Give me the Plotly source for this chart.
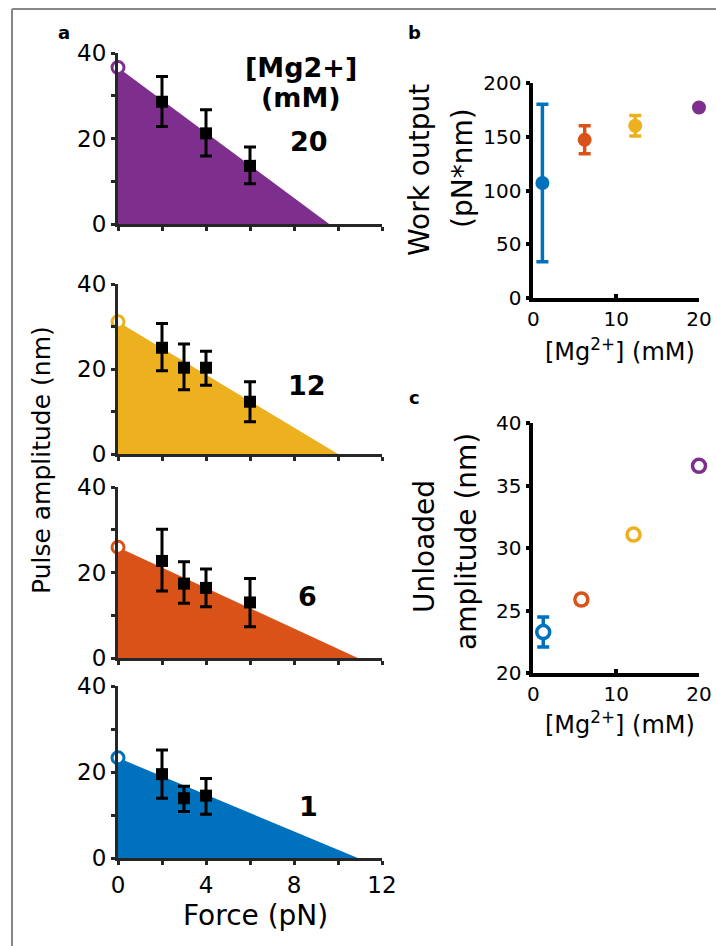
import plotly.graph_objects as go

W, H = 716, 946

# ---------------- data ----------------
mg = [1, 6, 12, 20]
mg_colors = ["#0072BD", "#D95319", "#EDB120", "#7E2F8E"]
unloaded_amp = [23.3, 25.9, 31.1, 36.6]
unloaded_err = [1.2, 0.35, 0.15, 0.1]
stall_force = [10.9, 10.9, 10.0, 9.6]

# panel a data (per [Mg2+])
force_1 = [2, 3, 4]
amp_1 = [19.5, 13.9, 14.5]
errp_1 = [5.6, 2.8, 4.0]
errm_1 = [5.6, 3.1, 4.3]

force_6 = [2, 3, 4, 6]
amp_6 = [22.7, 17.4, 16.4, 13.0]
errp_6 = [7.4, 5.1, 4.4, 5.6]
errm_6 = [7.0, 4.6, 4.4, 5.7]

force_12 = [2, 3, 4, 6]
amp_12 = [25.0, 20.3, 20.3, 12.3]
errp_12 = [5.7, 5.6, 3.9, 4.7]
errm_12 = [5.4, 5.2, 4.1, 4.7]

force_20 = [2, 4, 6]
amp_20 = [28.6, 21.2, 13.6]
errp_20 = [5.9, 5.5, 4.4]
errm_20 = [5.8, 5.3, 4.2]

# panel b
work_x = [1.1, 6.2, 12.3, 20.0]
work = [107, 147, 160, 177]
work_err = [73, 13, 9.5, 0.8]

# panel c
amp_x = [1.2, 5.8, 12.1, 20.0]

panel_a_labels = ["1", "6", "12", "20"]

# ---------------- layout helpers ----------------
def px_x(a, b):
    return [a / W, b / W]

def px_y(top, bottom):
    return [1 - bottom / H, 1 - top / H]

FONT = "DejaVu Sans"
AXC = "#262626"

fig = go.Figure()

a_rows = [
    (3, force_20, amp_20, errp_20, errm_20, (53, 224)),
    (2, force_12, amp_12, errp_12, errm_12, (284, 454)),
    (1, force_6, amp_6, errp_6, errm_6, (487, 658)),
    (0, force_1, amp_1, errp_1, errm_1, (686, 858)),
]

layout_axes = {}
for i, (k, f, a, ep, em, (top, bot)) in enumerate(a_rows):
    n = i + 1
    xa = "x" if n == 1 else f"x{n}"
    ya = "y" if n == 1 else f"y{n}"
    fig.add_trace(go.Scatter(
        x=[0, stall_force[k], 0], y=[unloaded_amp[k], 0, 0],
        fill="toself", fillcolor=mg_colors[k], mode="lines",
        line=dict(width=0, color=mg_colors[k]), xaxis=xa, yaxis=ya,
        hoverinfo="skip", showlegend=False))
    fig.add_trace(go.Scatter(
        x=f, y=a, mode="markers",
        marker=dict(symbol="square", size=12, color="black"),
        error_y=dict(type="data", array=ep, arrayminus=em, color="black",
                     thickness=3, width=6),
        xaxis=xa, yaxis=ya, showlegend=False, cliponaxis=False))
    fig.add_trace(go.Scatter(
        x=[0], y=[unloaded_amp[k]], mode="markers",
        marker=dict(symbol="circle", size=12, color="white",
                    line=dict(color=mg_colors[k], width=3)),
        xaxis=xa, yaxis=ya, showlegend=False, cliponaxis=False))
    xkey = "xaxis" if n == 1 else f"xaxis{n}"
    ykey = "yaxis" if n == 1 else f"yaxis{n}"
    layout_axes[xkey] = dict(
        domain=px_x(118, 382), range=[0, 12], anchor=ya, automargin=False,
        showline=True, linewidth=3, linecolor=AXC, zeroline=False,
        showgrid=False, tickvals=[0, 4, 8, 12], ticks="outside", ticklen=4,
        tickwidth=3, tickcolor=AXC,
        minor=dict(dtick=2, ticks="outside", ticklen=4, tickwidth=3, tickcolor=AXC),
        showticklabels=(n == 4), tickfont=dict(family=FONT, size=23, color="black"))
    layout_axes[ykey] = dict(
        domain=px_y(top, bot), range=[0, 40], anchor=xa, automargin=False,
        showline=True, linewidth=3, linecolor=AXC, zeroline=False,
        showgrid=False, tickvals=[0, 20, 40], ticks="outside", ticklen=4,
        tickwidth=3, tickcolor=AXC,
        minor=dict(dtick=10, ticks="outside", ticklen=4, tickwidth=3, tickcolor=AXC),
        tickfont=dict(family=FONT, size=23, color="black"))

for k in range(4):
    fig.add_trace(go.Scatter(
        x=[work_x[k]], y=[work[k]], mode="markers",
        marker=dict(symbol="circle", size=14, color=mg_colors[k]),
        error_y=dict(type="data", array=[work_err[k]], color=mg_colors[k],
                     thickness=3.5, width=6),
        xaxis="x5", yaxis="y5", showlegend=False, cliponaxis=False))
layout_axes["xaxis5"] = dict(
    domain=px_x(533.3, 699), range=[0, 20], anchor="y5", automargin=False,
    showline=True, linewidth=3.5, linecolor="black", zeroline=False, showgrid=False,
    tickvals=[0, 10, 20], ticks="inside", ticklen=5, tickwidth=3.5, tickcolor="black",
    tickfont=dict(family=FONT, size=20, color="black"))
layout_axes["yaxis5"] = dict(
    domain=px_y(82.7, 298.3), range=[0, 200], anchor="x5", automargin=False,
    showline=True, linewidth=3.5, linecolor="black", zeroline=False, showgrid=False,
    tickvals=[0, 50, 100, 150, 200], ticks="outside", ticklen=4, tickwidth=3.5,
    tickcolor="black", tickfont=dict(family=FONT, size=20, color="black"))

for k in range(4):
    fig.add_trace(go.Scatter(
        x=[amp_x[k]], y=[unloaded_amp[k]], mode="markers",
        marker=dict(symbol="circle", size=13, color="white",
                    line=dict(color=mg_colors[k], width=3.5)),
        error_y=dict(type="data", array=[unloaded_err[k]], color=mg_colors[k],
                     thickness=3.5, width=6),
        xaxis="x6", yaxis="y6", showlegend=False, cliponaxis=False))
layout_axes["xaxis6"] = dict(
    domain=px_x(533.3, 699), range=[0, 20], anchor="y6", automargin=False,
    showline=True, linewidth=3.5, linecolor="black", zeroline=False, showgrid=False,
    tickvals=[0, 10, 20], ticks="inside", ticklen=5, tickwidth=3.5, tickcolor="black",
    tickfont=dict(family=FONT, size=20, color="black"))
layout_axes["yaxis6"] = dict(
    domain=px_y(423.3, 673.3), range=[20, 40], anchor="x6", automargin=False,
    showline=True, linewidth=3.5, linecolor="black", zeroline=False, showgrid=False,
    tickvals=[20, 25, 30, 35, 40], ticks="outside", ticklen=4, tickwidth=3.5,
    tickcolor="black", tickfont=dict(family=FONT, size=20, color="black"))

def ann(text, x, y, size, bold=False, angle=0, xref="paper", yref="paper", **kw):
    if bold:
        text = f"<b>{text}</b>"
    d = dict(text=text, x=x, y=y, xref=xref, yref=yref, showarrow=False,
             font=dict(family=FONT, size=size, color="black"), textangle=angle,
             xanchor="center", yanchor="middle")
    d.update(kw)
    return d

annotations = []
annotations.append(ann("a", 64 / W, 1 - 33 / H, 18, bold=True))
annotations.append(ann("b", 414 / W, 1 - 33 / H, 18, bold=True))
annotations.append(ann("c", 414 / W, 1 - 397 / H, 18, bold=True))
annotations.append(ann("[Mg2+]", 8.3, 36.5, 27, bold=True, xref="x", yref="y"))
annotations.append(ann("(mM)", 8.3, 29.5, 27, bold=True, xref="x", yref="y"))
label_pos = [(8.65, 11.9, "x4", "y4"), (8.6, 14.3, "x3", "y3"),
             (8.6, 16.2, "x2", "y2"), (8.7, 19.2, "x", "y")]
for k in range(4):
    lx, ly, xr, yr = label_pos[k]
    annotations.append(ann(panel_a_labels[k], lx, ly, 27, bold=True, xref=xr, yref=yr))
annotations.append(ann("Pulse amplitude (nm)", 42 / W, 1 - 460 / H, 25, angle=-90))
annotations.append(ann("Force (pN)", 255 / W, 1 - 915 / H, 28))
annotations.append(ann("Work output", 419 / W, 1 - 170 / H, 28, angle=-90))
annotations.append(ann("(pN*nm)", 462 / W, 1 - 168 / H, 28, angle=-90))
annotations.append(ann("[Mg<sup>2+</sup>] (mM)", 620 / W, 1 - 350 / H, 24))
annotations.append(ann("Unloaded", 424 / W, 1 - 547 / H, 28, angle=-90))
annotations.append(ann("amplitude (nm)", 466 / W, 1 - 542 / H, 28, angle=-90))
annotations.append(ann("[Mg<sup>2+</sup>] (mM)", 620 / W, 1 - 723 / H, 24))

shapes = [
    dict(type="line", xref="paper", yref="paper", x0=12 / W, x1=12 / W,
         y0=0, y1=1 - 9 / H, line=dict(color="#888888", width=2)),
    dict(type="line", xref="paper", yref="paper", x0=12 / W, x1=1,
         y0=1 - 9 / H, y1=1 - 9 / H, line=dict(color="#888888", width=2)),
]

fig.update_layout(
    template="none",
    width=W, height=H, margin=dict(l=0, r=0, t=0, b=0, autoexpand=False),
    paper_bgcolor="white", plot_bgcolor="white",
    showlegend=False, annotations=annotations, shapes=shapes,
    font=dict(family=FONT, color="black"),
    **layout_axes)

fig.write_html("out.html", config={"displayModeBar": False},
               post_script="document.body.style.margin='0px';document.body.style.overflow='hidden';")
